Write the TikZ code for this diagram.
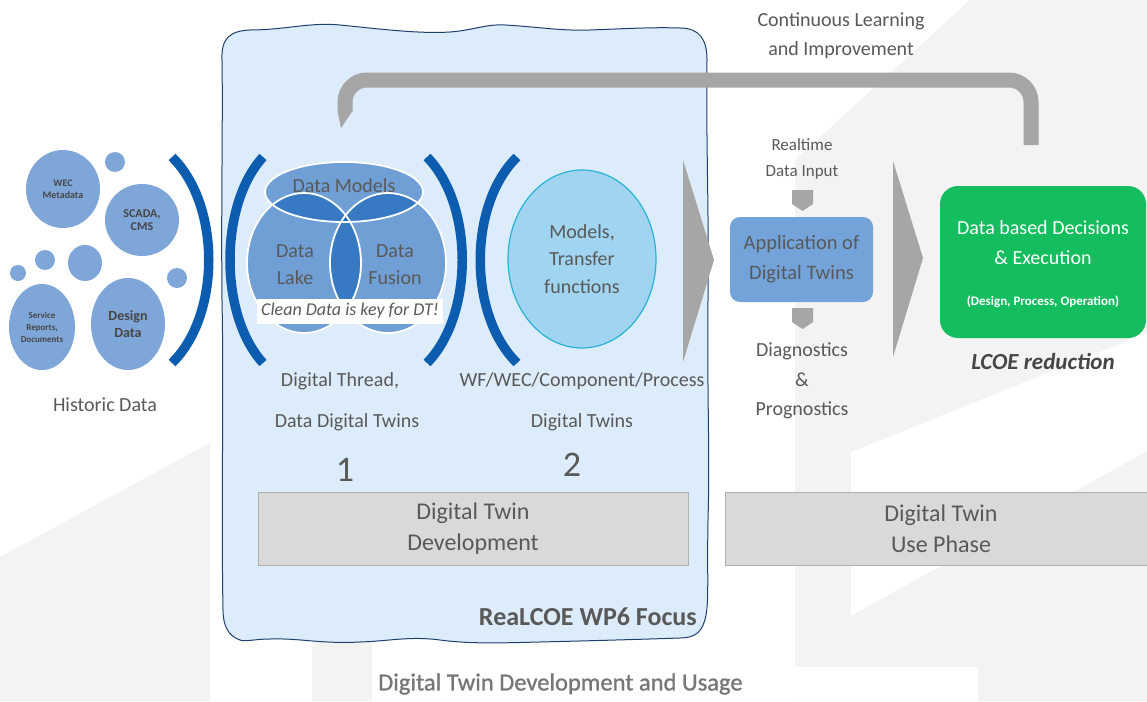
\documentclass[tikz,border=0pt]{standalone}
\usepackage{fontspec}
\setmainfont{Carlito}
\newfontfamily\capfont{Carlito}[FakeBold=0.9]
\usetikzlibrary{shapes.geometric}
\definecolor{txt}{RGB}{89,89,89}
\definecolor{txtdark}{RGB}{70,70,70}
\definecolor{wm}{RGB}{243,243,243}
\definecolor{focusfill}{RGB}{221,236,250}
\definecolor{focusline}{RGB}{31,64,110}
\definecolor{histblue}{RGB}{126,166,216}
\definecolor{arcblue}{RGB}{12,92,176}
\definecolor{vennblue}{RGB}{3,84,178}
\definecolor{modelfill}{RGB}{160,212,240}
\definecolor{modelline}{RGB}{40,180,215}
\definecolor{arrowgrey}{RGB}{166,166,166}
\definecolor{boxfill}{RGB}{217,217,217}
\definecolor{boxline}{RGB}{175,175,175}
\definecolor{appfill}{RGB}{115,163,216}
\definecolor{greenbox}{RGB}{20,190,95}
\definecolor{capgrey}{RGB}{118,118,118}
\newcommand\fsz[2]{\fontsize{#1}{#2}\selectfont}
\begin{document}
\begin{tikzpicture}[x=1pt,y=-1pt,
  lbl/.style={text=txt, align=center, inner sep=0pt},
  hist/.style={ellipse, fill=histblue, inner sep=0pt, text=txtdark, align=center},
  bracketarc/.style={draw=arcblue, line width=9.5pt},
  greybox/.style={rectangle, draw=boxline, line width=1pt, fill=boxfill, text=txt, align=center, font=\fsz{24}{31}},
  vennfill/.style={fill=vennblue, fill opacity=0.5},
  vennline/.style={draw=white, line width=1.8pt},
]
\useasboundingbox (0,0) rectangle (1147,701);
\fill[white] (0,0) rectangle (1147,701);
% watermark
\fill[wm] (0,557) -- (210,443) -- (210,701) -- (0,701) -- cycle;
\fill[wm] (312,470) -- (372,437) -- (372,701) -- (312,701) -- cycle;
\fill[wm] (795,160) -- (970,0) -- (1147,0) -- (1147,701) -- (795,701) -- cycle;
\fill[white] (851,452) -- (1147,333) -- (1147,451) -- (851,616) -- cycle;
\fill[white] (372,667) rectangle (978,701);

% focus box
\draw[fill=focusfill, draw=focusline, line width=1pt]
  (222,60) .. controls (221,38) and (230,31) .. (250,30)
  .. controls (285,30) and (310,22) .. (340,25)
  .. controls (380,29) and (420,34) .. (450,32)
  .. controls (475,30) and (485,24) .. (505,25)
  .. controls (540,27) and (560,31) .. (590,30)
  .. controls (620,29) and (650,27) .. (680,28)
  .. controls (700,28) and (707,40) .. (707,60)
  .. controls (706,150) and (709,200) .. (708,300)
  .. controls (707,400) and (710,450) .. (708,520)
  .. controls (707,570) and (709,600) .. (706,615)
  .. controls (703,632) and (695,638) .. (680,638)
  .. controls (620,640) and (580,641) .. (540,642)
  .. controls (500,643) and (470,644) .. (440,640)
  .. controls (410,636) and (390,641) .. (360,642)
  .. controls (320,644) and (300,638) .. (270,639)
  .. controls (255,639) and (245,642) .. (240,640)
  .. controls (228,636) and (223,625) .. (223,610)
  .. controls (221,500) and (224,400) .. (222,300)
  .. controls (221,200) and (223,120) .. (222,60) -- cycle;

% feedback bracket
\coordinate (fbR) at (1031,145);
\coordinate (fbL) at (345,112);
\draw[draw=arrowgrey, line width=15pt, rounded corners=22pt] (fbR) -- (1031,80) -- (345,80) -- (fbL);
\fill[arrowgrey] (337.5,111) -- (352.5,111) -- (341,128) -- cycle;
\node[lbl, font=\fsz{20}{29}] (cont) at (841,36) {Continuous Learning\\and Improvement};

% historic data
\node[hist, minimum width=74, minimum height=78, font=\bfseries\fsz{10}{12}] (wec) at (63,189) {WEC\\Metadata};
\node[hist, minimum width=74, minimum height=72, font=\bfseries\fsz{12}{13}] (scada) at (142,220) {SCADA,\\CMS};
\node[hist, minimum width=66, minimum height=86, font=\bfseries\fsz{9}{12}] (serv) at (42,327) {Service\\Reports,\\Documents};
\node[hist, minimum width=74, minimum height=92, font=\bfseries\fsz{14}{17}] (design) at (128,324) {Design\\Data};
\node[hist, minimum width=20, minimum height=20] (s1) at (115,162) {};
\node[hist, minimum width=20, minimum height=20] (s2) at (45,260) {};
\node[hist, minimum width=34, minimum height=36] (s3) at (85,263) {};
\node[hist, minimum width=16, minimum height=16] (s4) at (18,273) {};
\node[hist, minimum width=20, minimum height=20] (s5) at (177,278) {};
\node[lbl, font=\fsz{20}{24}] (hist) at (105,405) {Historic Data};

% blue brackets
\draw[bracketarc] (172,157) .. controls (221,205) and (221,315) .. (172,363);
\draw[bracketarc] (263,157) .. controls (219,205) and (219,315) .. (263,363);
\draw[bracketarc] (427,157) .. controls (474,205) and (474,315) .. (427,363);
\draw[bracketarc] (517,157) .. controls (468,205) and (468,315) .. (517,363);

% venn
\fill[vennfill] (304,263) ellipse [x radius=57, y radius=70];
\fill[vennfill] (388,263) ellipse [x radius=58, y radius=70];
\fill[vennfill] (344,192) ellipse [x radius=79, y radius=30];
\draw[vennline] (304,263) ellipse [x radius=57, y radius=70];
\draw[vennline] (388,263) ellipse [x radius=58, y radius=70];
\draw[vennline] (344,192) ellipse [x radius=79, y radius=30];
\node[lbl, font=\fsz{20}{26}] (dmodels) at (344,186) {Data Models};
\node[lbl, font=\fsz{20}{27}] (dlake) at (295,265) {Data\\Lake};
\node[lbl, font=\fsz{20}{27}] (dfusion) at (395,265) {Data\\Fusion};
\node[fill=white, text=txt, inner sep=0pt, minimum width=186, minimum height=25, font=\itshape\fsz{18}{22}] (clean) at (350,311) {Clean Data is key for DT!};

% models circle
\node[ellipse, fill=modelfill, draw=modelline, line width=1.2pt, minimum width=148, minimum height=178, inner sep=0pt, text=txt, align=center, font=\fsz{20}{27.5}] (models) at (582,259) {Models,\\Transfer\\functions};

% labels below
\node[lbl, font=\fsz{20}{24}] (thread) at (340,381) {Digital Thread,};
\node[lbl, font=\fsz{20}{24}] (ddt) at (347,422) {Data Digital Twins};
\node[lbl, font=\fsz{20}{24}] (wf) at (582,381) {WF/WEC/Component/Process};
\node[lbl, font=\fsz{20}{24}] (dt2) at (582,422) {Digital Twins};
\node[lbl, font=\fsz{36}{40}] (one) at (345,470) {1};
\node[lbl, font=\fsz{36}{40}] (two) at (572,465) {2};

% phase boxes
\node[greybox, minimum width=430, minimum height=73] (dev) at (473,528.5) {Digital Twin\\Development};
\node[greybox, minimum width=432, minimum height=73] (use) at (941,528.5) {Digital Twin\\Use Phase};
\node[lbl, anchor=east, font=\bfseries\fsz{26}{30}] (focus) at (697,617) {ReaLCOE WP6 Focus};

% big arrows
\fill[arrowgrey] (683,160) -- (714,260) -- (683,362) -- cycle;
\fill[arrowgrey] (893,161) -- (923,258) -- (893,357) -- cycle;

% application
\node[lbl, font=\fsz{17}{26}] (rt) at (802,159) {Realtime\\Data Input};
\fill[arrowgrey] (792,190) -- (813,190) -- (813,204) -- (802.5,211) -- (792,204) -- cycle;
\node[rectangle, rounded corners=10pt, fill=appfill, minimum width=143, minimum height=85, inner sep=0pt, text=txt, align=center, font=\fsz{20.5}{30}] (app) at (801.5,259.5) {Application of\\Digital Twins};
\fill[arrowgrey] (792,308) -- (813,308) -- (813,322) -- (802.5,329) -- (792,322) -- cycle;
\node[lbl, font=\fsz{20}{29.5}] (diag) at (802,381) {Diagnostics\\\&\\Prognostics};

% decisions
\node[rectangle, rounded corners=18pt, fill=greenbox, minimum width=206, minimum height=152, inner sep=0pt] (dec) at (1043,262) {};
\node[inner sep=0pt, text=white, align=center, font=\fsz{20}{30}] (dectxt) at (1043,243) {Data based Decisions\\\& Execution};
\node[inner sep=0pt, text=white, font=\bfseries\fsz{13}{16}] (decsub) at (1043,302) {(Design, Process, Operation)};
\node[inner sep=0pt, text=txtdark, font=\bfseries\itshape\fsz{23}{27}] (lcoe) at (1043,362) {LCOE reduction};

% caption
\node[inner sep=0pt, anchor=west, text=capgrey, font=\capfont\fsz{24.5}{28}] (caption) at (378,684) {Digital Twin Development and Usage};
\end{tikzpicture}
\end{document}
